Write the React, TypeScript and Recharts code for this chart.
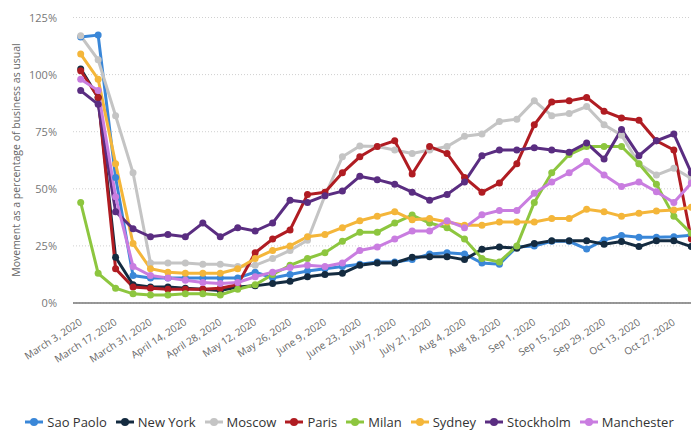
import React from 'react';
import { LineChart, Line, XAxis, YAxis, CartesianGrid, Legend } from 'recharts';

const dates = [
  'March 3, 2020', 'March 10, 2020', 'March 17, 2020', 'March 24, 2020', 'March 31, 2020',
  'April 7, 2020', 'April 14, 2020', 'April 21, 2020', 'April 28, 2020', 'May 5, 2020',
  'May 12, 2020', 'May 19, 2020', 'May 26, 2020', 'June 2, 2020', 'June 9, 2020',
  'June 16, 2020', 'June 23, 2020', 'June 30, 2020', 'July 7, 2020', 'July 14, 2020',
  'July 21, 2020', 'July 28, 2020', 'Aug 4, 2020', 'Aug 11, 2020', 'Aug 18, 2020',
  'Aug 25, 2020', 'Sep 1, 2020', 'Sep 8, 2020', 'Sep 15, 2020', 'Sep 22, 2020',
  'Sep 29, 2020', 'Oct 6, 2020', 'Oct 13, 2020', 'Oct 20, 2020', 'Oct 27, 2020', 'Nov 3, 2020',
];

const yTicks = [0, 25, 50, 75, 100, 125];

const saoPaolo = [116.5, 117.3, 55, 12, 11, 11, 11, 11, 11, 11, 13.5, 11, 12.5, 14, 15, 16, 17, 18, 18, 19, 21.5, 22, 21.5, 17.5, 17, 24.5, 25, 27, 27, 23.6, 27.6, 29.5, 28.8, 28.8, 29, 29.7];
const newYork = [102.5, 90, 20, 8, 7, 7, 6.5, 6, 5.5, 7, 7.5, 8.5, 9.5, 11.5, 12.5, 13, 16.5, 17.5, 17.5, 20, 20.3, 20.3, 19, 23.5, 24.5, 24, 26, 27.3, 27.3, 27.3, 25.7, 26.9, 24.7, 27.3, 27.3, 24.7];
const moscow = [117, 106.5, 82, 57, 17.5, 17.5, 17.5, 17, 17, 16, 16.5, 19.5, 23, 27.5, 47, 64, 68.7, 68.5, 67, 65.5, 67, 68.5, 73, 74, 79.5, 80.5, 88.5, 82, 83, 86, 78, 73.5, 61, 56, 59, 54.5];
const paris = [101.7, 90, 15, 7, 6.5, 6, 6, 6, 6.5, 8, 22, 28, 32, 47.5, 48.5, 57, 64, 68.5, 71, 56.5, 68.5, 65.5, 55, 48.5, 52.5, 61, 78, 88, 88.5, 90, 84, 81, 80, 71, 67, 28];
const milan = [44, 13, 6.5, 4, 3.5, 3.5, 4, 4, 3.5, 6, 8, 12.5, 16.5, 19.5, 22, 27, 31, 31, 35, 38.5, 35, 33, 28, 19.5, 18, 25, 44, 57, 65, 68.5, 68.5, 68.5, 61, 52, 38, 30.5];
const sydney = [109, 98, 61, 26, 15, 13.5, 13, 13, 13, 15, 19.5, 23, 25, 29, 30, 33, 36, 38, 40, 36.5, 37, 35.5, 34, 34, 35.5, 35.5, 35.5, 37, 37, 41, 40, 38, 39.3, 40.3, 40.7, 41.9];
const stockholm = [93, 87, 40, 32.5, 29, 30, 29, 35, 29, 33, 31.5, 35, 45, 44, 47, 49, 55.5, 54, 52, 48.5, 45, 47.5, 53, 64.5, 67, 67, 68, 67, 66, 70, 63, 76, 64.5, 71, 74, 57];
const manchester = [98, 93, 46.5, 16, 12, 11, 10, 9, 8.5, 9, 11.5, 13.5, 15.5, 16.5, 16, 17.5, 23, 24.5, 28, 31.5, 31.5, 36, 33, 38.6, 40.5, 40.5, 48, 53, 57, 62, 56, 51, 53, 48.7, 44, 52.5];

const series = [
  { key: 'saoPaolo', name: 'Sao Paolo', color: '#3a87d8', values: saoPaolo },
  { key: 'newYork', name: 'New York', color: '#142b40', values: newYork },
  { key: 'moscow', name: 'Moscow', color: '#c4c4c4', values: moscow },
  { key: 'paris', name: 'Paris', color: '#b01c22', values: paris },
  { key: 'milan', name: 'Milan', color: '#8dc63f', values: milan },
  { key: 'sydney', name: 'Sydney', color: '#f4b63a', values: sydney },
  { key: 'stockholm', name: 'Stockholm', color: '#5a2d81', values: stockholm },
  { key: 'manchester', name: 'Manchester', color: '#c97de0', values: manchester },
];

const data = dates.map((date, i) => {
  const row: Record<string, any> = { date };
  series.forEach((s) => {
    row[s.key] = s.values[i];
  });
  return row;
});

// rotated date labels, end of text sits just under its tick
const DateTick = ({ x, y, payload }: any) => {
  const ax = x + 2;
  const ay = y + 13;
  return (
    <text x={ax} y={ay} transform={`rotate(-33 ${ax} ${ay})`} textAnchor="end" fontSize={10} fill="#666">
      {payload.value}
    </text>
  );
};

const PctTick = ({ x, y, payload }: any) => (
  <text x={x - 8} y={y} dy={4} textAnchor="end" fontSize={11} fill="#777">
    {payload.value}%
  </text>
);

const YLabel = () => (
  <text
    x={16}
    y={160}
    transform="rotate(-90 16 160)"
    textAnchor="middle"
    dominantBaseline="central"
    fontSize={10.5}
    fill="#666"
  >
    Movement as a percentage of business as usual
  </text>
);

const LegendContent = () => (
  <div style={{ display: 'flex', justifyContent: 'center', gap: 9, fontSize: 13, color: '#333', lineHeight: '14px' }}>
    {series.map((s) => (
      <div key={s.key} style={{ display: 'flex', alignItems: 'center', height: 14 }}>
        <svg width={18} height={10}>
          <line x1={0} y1={5} x2={18} y2={5} stroke={s.color} strokeWidth={3} />
          <circle cx={9} cy={5} r={4} fill={s.color} />
        </svg>
        <span style={{ marginLeft: 4 }}>{s.name}</span>
      </div>
    ))}
  </div>
);

export default function App() {
  return (
    <div
      style={{
        position: 'fixed',
        left: 0,
        top: 0,
        width: 691,
        height: 430,
        overflow: 'hidden',
        background: '#fff',
        fontFamily: '"Open Sans", sans-serif',
      }}
    >
      <LineChart width={699} height={430} data={data} margin={{ top: 17.5, right: 0, bottom: 0, left: 0 }}>
        <CartesianGrid vertical={false} stroke="#d0d0d0" strokeDasharray="1 2" />
        <XAxis
          dataKey="date"
          interval={1}
          height={127}
          padding={{ left: 7.7, right: 7.7 }}
          tickLine={false}
          axisLine={{ stroke: '#777', strokeWidth: 1.5 }}
          tick={<DateTick />}
        />
        <YAxis
          width={73}
          domain={[0, 125]}
          ticks={yTicks}
          axisLine={false}
          tickLine={false}
          tick={<PctTick />}
          label={<YLabel />}
        />
        <Legend
          layout="horizontal"
          verticalAlign="middle"
          align="center"
          wrapperStyle={{ top: 415, left: 0, width: 699 }}
          content={<LegendContent />}
        />
        {series.map((s) => (
          <Line
            key={s.key}
            type="linear"
            dataKey={s.key}
            name={s.name}
            stroke={s.color}
            strokeWidth={3}
            dot={{ r: 3.5, fill: s.color, stroke: s.color, strokeWidth: 0 }}
            activeDot={false}
            isAnimationActive={false}
          />
        ))}
      </LineChart>
    </div>
  );
}
